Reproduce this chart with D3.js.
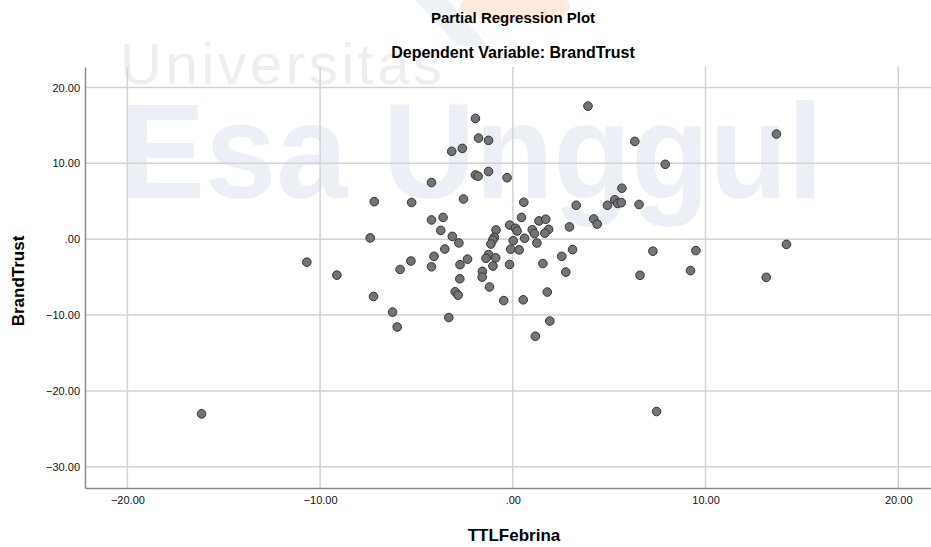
<!DOCTYPE html>
<html>
<head>
<meta charset="utf-8">
<script src="https://cdn.jsdelivr.net/npm/d3@7"></script>
<style>
  body { margin: 0; background: #fff; }
  text { font-family: "Liberation Sans", Arial, sans-serif; }
</style>
</head>
<body>
<div id="chart"></div>
<script>
// partial regression residuals
var ttlFebrina = [-1.94,3.90,-1.78,-1.26,-3.17,-2.62,6.33,7.91,-1.94,-1.80,-1.26,-0.30,-4.22,-7.19,-5.25,-2.56,0.57,3.29,5.66,4.91,
  5.29,5.44,5.63,6.55,-4.22,-3.62,-3.74,-7.40,-3.14,-2.80,0.45,-0.16,0.14,0.22,0.61,-0.87,-0.96,-1.04,-1.14,0.02,
  -0.11,0.33,1.01,1.12,1.36,1.71,1.86,1.66,1.25,2.94,4.20,4.38,2.54,3.10,1.56,2.75,7.27,6.60,-3.53,-4.09,
  -5.29,-5.85,-4.22,-2.74,-2.35,-2.75,-1.26,-1.39,-0.89,-1.03,-1.58,-1.59,-0.17,-7.23,-6.24,-6.00,-2.99,-2.84,-3.32,-1.21,
  -0.47,0.54,1.79,1.92,1.17,7.46,-10.69,-9.13,-16.15,13.68,9.50,9.22,14.20,13.15];
var brandTrust = [15.92,17.54,13.33,13.03,11.58,11.97,12.89,9.87,8.46,8.30,8.92,8.11,7.47,4.95,4.84,5.30,4.87,4.47,6.72,4.47,
  5.20,4.71,4.82,4.58,2.54,2.87,1.16,0.17,0.37,-0.49,2.87,1.86,1.45,1.09,0.13,1.22,0.24,-0.09,-0.64,-0.20,
  -1.32,-1.41,1.25,0.72,2.41,2.63,1.29,0.79,-0.51,1.62,2.67,1.99,-2.26,-1.37,-3.21,-4.34,-1.58,-4.76,-1.30,-2.26,
  -2.88,-3.99,-3.64,-3.36,-2.63,-5.22,-2.03,-2.53,-2.46,-3.54,-4.24,-5.00,-3.33,-7.55,-9.61,-11.58,-6.93,-7.37,-10.33,-6.30,
  -8.09,-7.99,-6.97,-10.79,-12.79,-22.72,-3.03,-4.74,-23.03,13.86,-1.50,-4.14,-0.68,-5.03];
var xTicks = [-20, -10, 0, 10, 20];
var yTicks = [20, 10, 0, -10, -20, -30];

var width = 931, height = 547;
var plot = {left: 85, right: 931, top: 67, bottom: 488};

var svg = d3.select("#chart").append("svg")
    .attr("width", width)
    .attr("height", height);

// faint logo + watermark behind the plot
svg.append("path")
    .attr("d", "M415,0 L448,0 L488,46 L458,46 Z")
    .style("fill", "#eef1f6");
svg.append("ellipse")
    .attr("cx", 515).attr("cy", 6).attr("rx", 55).attr("ry", 16)
    .style("fill", "#fdeadc");
svg.append("text")
    .attr("x", 120).attr("y", 84)
    .attr("textLength", 322)
    .style("font-size", "58px")
    .style("font-weight", "300")
    .style("fill", "#eceef1")
    .text("Universitas");
svg.append("text")
    .attr("x", 120).attr("y", 198)
    .attr("textLength", 703)
    .attr("lengthAdjust", "spacingAndGlyphs")
    .style("font-size", "136px")
    .style("font-weight", "bold")
    .style("fill", "#ecf0f6")
    .text("Esa Unggul");

var x = d3.scaleLinear().domain([-22.2, 21.7]).range([plot.left, plot.right]);
var y = d3.scaleLinear().domain([-32.8, 22.7]).range([plot.bottom, plot.top]);

function fmt(v) {
    var s = d3.format(".2f")(v);
    return s == "0.00" ? ".00" : s;
}

// grid
svg.append("g").selectAll("line")
    .data(xTicks).enter().append("line")
    .attr("x1", function (d) { return x(d); })
    .attr("x2", function (d) { return x(d); })
    .attr("y1", plot.top).attr("y2", plot.bottom)
    .style("stroke", "#d2d2d2").style("stroke-width", 1.5);
svg.append("g").selectAll("line")
    .data(yTicks).enter().append("line")
    .attr("y1", function (d) { return y(d); })
    .attr("y2", function (d) { return y(d); })
    .attr("x1", plot.left).attr("x2", plot.right)
    .style("stroke", "#d2d2d2").style("stroke-width", 1.5);

// axes
var xAxis = svg.append("g")
    .attr("transform", "translate(0," + plot.bottom + ")")
    .call(d3.axisBottom(x).tickValues(xTicks).tickFormat(fmt).tickSize(0).tickPadding(8));
var yAxis = svg.append("g")
    .attr("transform", "translate(" + plot.left + ",0)")
    .call(d3.axisLeft(y).tickValues(yTicks).tickFormat(fmt).tickSize(0).tickPadding(5));
[xAxis, yAxis].forEach(function (a) {
    a.select(".domain").style("stroke", "#8c8c8c").style("stroke-width", 1.5);
    a.selectAll("text").style("font-size", "11px").style("fill", "#111")
        .style("font-family", "'Liberation Sans', Arial, sans-serif");
});

// points
svg.append("g").selectAll("circle")
    .data(ttlFebrina).enter().append("circle")
    .attr("cx", function (d) { return x(d); })
    .attr("cy", function (d, i) { return y(brandTrust[i]); })
    .attr("r", 4.3)
    .style("fill", "#747474")
    .style("stroke", "#333")
    .style("stroke-width", 1);

// titles
svg.append("text").attr("x", 513).attr("y", 23)
    .attr("text-anchor", "middle")
    .style("font-size", "15px").style("font-weight", "bold")
    .text("Partial Regression Plot");
svg.append("text").attr("x", 513).attr("y", 58)
    .attr("text-anchor", "middle")
    .style("font-size", "16px").style("font-weight", "bold")
    .text("Dependent Variable: BrandTrust");
svg.append("text").attr("x", 514).attr("y", 541)
    .attr("text-anchor", "middle")
    .style("font-size", "17px").style("font-weight", "bold")
    .text("TTLFebrina");
svg.append("text")
    .attr("transform", "translate(24,281) rotate(-90)")
    .attr("text-anchor", "middle")
    .style("font-size", "17px").style("font-weight", "bold")
    .text("BrandTrust");
</script>
</body>
</html>
